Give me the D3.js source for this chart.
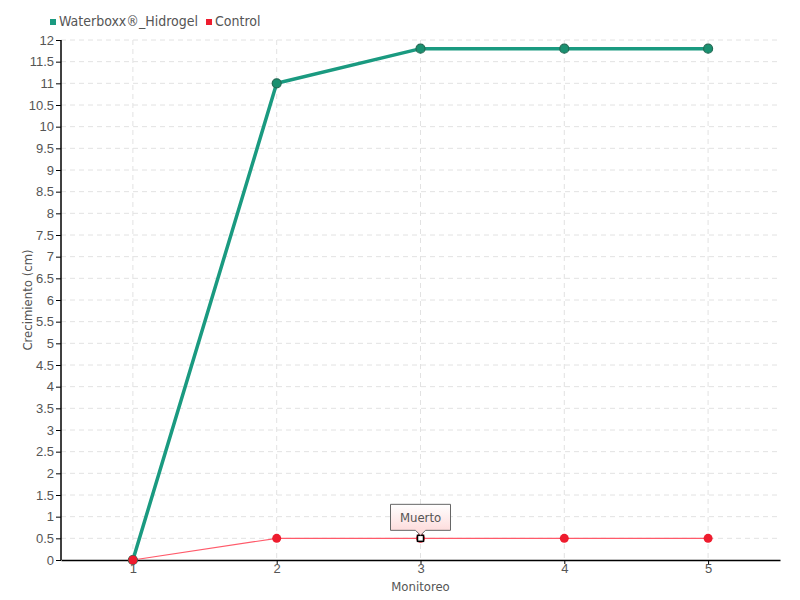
<!DOCTYPE html>
<html lang="es">
<head>
    <meta charset="UTF-8" />
    <title>Crecimiento</title>
    <script src="https://d3js.org/d3.v7.min.js"></script>
    <style>
        body {
            margin: 0;
            background: #fff;
            font-family: "DejaVu Sans", sans-serif;
            font-stretch: condensed;
        }
        svg text {
            fill: #555;
        }
    </style>
</head>
<body>
<div id="chart"></div>
<script>
    // Data
    const monitoreo = [1, 2, 3, 4, 5];
    const waterboxx = [0, 11, 11.8, 11.8, 11.8];
    const control = [0, 0.5, 0.5, 0.5, 0.5];
    const yTicks = d3.range(0, 12.01, 0.5);
    const seriesNames = ["Waterboxx®_Hidrogel", "Control"];
    const seriesColors = ["#1a9a80", "#ee1c2e"];
    const note = { index: 2, text: "Muerto" };

    const width = 800, height = 600;
    const margin = { top: 40, right: 20, bottom: 40, left: 61 };
    const innerW = width - margin.left - margin.right;
    const innerH = height - margin.top - margin.bottom;

    const svg = d3.select("#chart").append("svg")
        .attr("width", width)
        .attr("height", height);

    const g = svg.append("g")
        .attr("transform", `translate(${margin.left},${margin.top})`);

    const x = d3.scalePoint().domain(monitoreo).range([0, innerW]).padding(0.5);
    const y = d3.scaleLinear().domain([0, 12]).range([innerH, 0]);

    // grid
    g.append("g").selectAll("line").data(yTicks.filter(d => d > 0))
        .join("line")
        .attr("x1", 0).attr("x2", innerW)
        .attr("y1", d => y(d)).attr("y2", d => y(d))
        .attr("stroke", "#e2e2e2")
        .attr("stroke-dasharray", "5,4");
    g.append("g").selectAll("line").data(monitoreo)
        .join("line")
        .attr("x1", d => x(d)).attr("x2", d => x(d))
        .attr("y1", 0).attr("y2", innerH)
        .attr("stroke", "#e2e2e2")
        .attr("stroke-dasharray", "5,4");

    // axes
    const yAxis = g.append("g")
        .call(d3.axisLeft(y).tickValues(yTicks).tickSize(5).tickPadding(2)
            .tickFormat(d3.format("~g")));
    const xAxis = g.append("g")
        .attr("transform", `translate(0,${innerH})`)
        .call(d3.axisBottom(x).tickSize(4).tickPadding(0).tickSizeOuter(0));
    [xAxis, yAxis].forEach(a => {
        a.select(".domain").attr("stroke", "#000").attr("stroke-width", 1.5);
        a.selectAll(".tick line").attr("stroke", "#000");
        a.selectAll("text").attr("font-size", 13).attr("fill", "#555")
            .style("font-family", "inherit");
    });
    yAxis.select(".domain").attr("d", `M0,0V${innerH}`);

    // axis titles
    svg.append("text")
        .attr("x", margin.left + innerW / 2)
        .attr("y", 591)
        .attr("text-anchor", "middle")
        .attr("font-size", 13)
        .text("Monitoreo");
    svg.append("text")
        .attr("transform", `translate(32,${margin.top + innerH / 2}) rotate(-90)`)
        .attr("text-anchor", "middle")
        .attr("font-size", 13)
        .text("Crecimiento (cm)");

    const line = d3.line().x((d, i) => x(monitoreo[i])).y(d => y(d));

    // Control line
    g.append("path").datum(control)
        .attr("d", line)
        .attr("fill", "none")
        .attr("stroke", "#ff5a6a")
        .attr("stroke-width", 1.2);

    // Waterboxx series
    g.append("path").datum(waterboxx)
        .attr("d", line)
        .attr("fill", "none")
        .attr("stroke", seriesColors[0])
        .attr("stroke-width", 3.5);
    g.append("g").selectAll("circle").data(waterboxx)
        .join("circle")
        .attr("cx", (d, i) => x(monitoreo[i]))
        .attr("cy", d => y(d))
        .attr("r", 4.5)
        .attr("fill", "#1a9070")
        .attr("stroke", "#236b55")
        .attr("stroke-width", 1.2);

    // Control points
    g.append("g").selectAll("circle")
        .data(control.map((v, i) => ({ v, i })))
        .join("circle")
        .attr("cx", d => x(monitoreo[d.i]))
        .attr("cy", d => y(d.v))
        .attr("r", 4.5)
        .attr("fill", seriesColors[1]);

    // annotated point (hollow square)
    const nx = x(monitoreo[note.index]), ny = y(control[note.index]);
    g.append("rect")
        .attr("x", nx - 3).attr("y", ny - 3)
        .attr("width", 6).attr("height", 6)
        .attr("fill", "#fff").attr("stroke", "#000").attr("stroke-width", 1.5);

    // annotation box
    const defs = svg.append("defs");
    const grad = defs.append("linearGradient").attr("id", "noteGrad")
        .attr("x1", 0).attr("y1", 0).attr("x2", 0).attr("y2", 1);
    grad.append("stop").attr("offset", "0%").attr("stop-color", "#fff");
    grad.append("stop").attr("offset", "100%").attr("stop-color", "#fdd6d6");
    const bw = 60, bh = 26, by = ny - 8 - bh;
    g.append("path")
        .attr("d", `M${nx - bw / 2},${by}h${bw}v${bh}h${-bw / 2 + 5}l-5,5l-5,-5h${-bw / 2 + 5}z`)
        .attr("fill", "url(#noteGrad)")
        .attr("stroke", "#666")
        .attr("stroke-width", 1);
    g.append("text")
        .attr("x", nx).attr("y", by + bh / 2 + 5)
        .attr("text-anchor", "middle")
        .attr("font-size", 13)
        .text(note.text);

    // legend
    const legend = svg.append("g").attr("transform", "translate(50,21)");
    let lx = 0;
    seriesNames.forEach((name, i) => {
        const item = legend.append("g").attr("transform", `translate(${lx},0)`);
        item.append("rect").attr("x", 0).attr("y", -2).attr("width", 6).attr("height", 6)
            .attr("fill", seriesColors[i]);
        const t = item.append("text").attr("x", 9).attr("y", 5)
            .attr("font-size", 14).text(name);
        lx += 9 + t.node().getComputedTextLength() + 8;
    });
</script>
</body>
</html>
